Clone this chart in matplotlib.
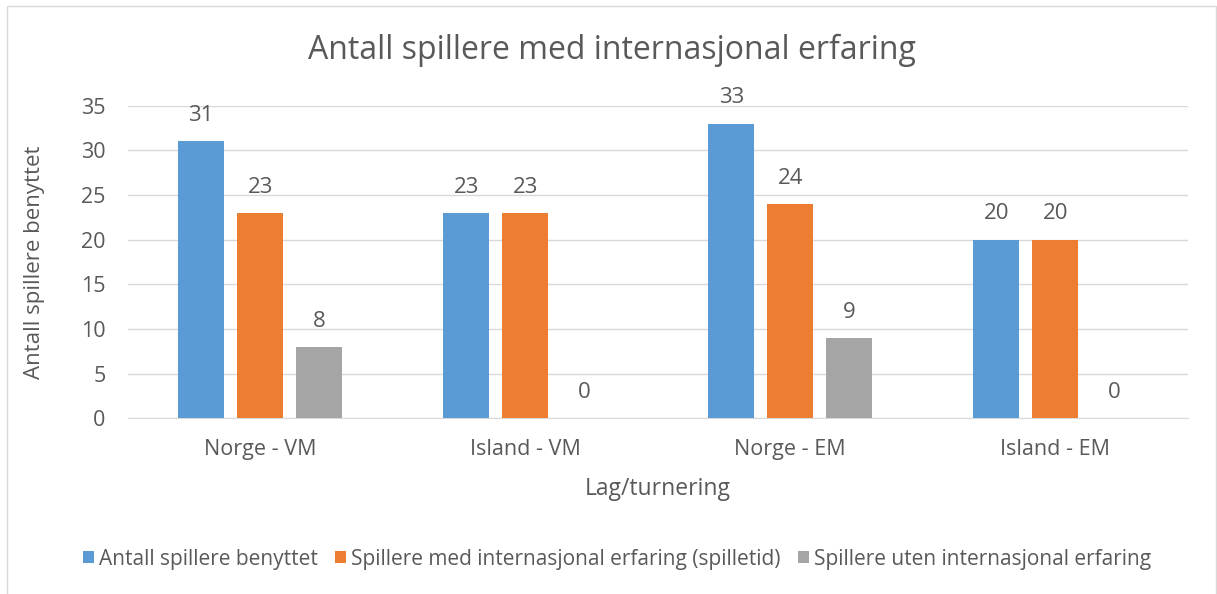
import matplotlib.pyplot as plt
import numpy as np
from matplotlib.patches import Rectangle

plt.rcParams['font.family'] = ['Open Sans', 'DejaVu Sans']

categories = ['Norge - VM', 'Island - VM', 'Norge - EM', 'Island - EM']
series_names = ['Antall spillere benyttet',
                'Spillere med internasjonal erfaring (spilletid)',
                'Spillere uten internasjonal erfaring']
benyttet = [31, 23, 33, 20]
med_erfaring = [23, 23, 24, 20]
uten_erfaring = [8, 0, 9, 0]
colors = ['#5B9BD5', '#ED7D31', '#A5A5A5']

txt = '#595959'

fig = plt.figure(figsize=(12.17, 5.94), dpi=100)
ax = fig.add_axes([0.105, 0.296, 0.871, 0.526])

# light border around the chart area
fig.patches.append(Rectangle((7 / 1217, -0.1), 1209 / 1217, 1.1 - 6 / 594,
                             transform=fig.transFigure, fill=False,
                             edgecolor='#D9D9D9', linewidth=1))

x = np.arange(len(categories))
w = 0.174
off = 0.223
for k, vals in enumerate([benyttet, med_erfaring, uten_erfaring]):
    pos = x + (k - 1) * off
    ax.bar(pos, vals, width=w, color=colors[k], label=series_names[k], zorder=3)
    for p, v in zip(pos, vals):
        ax.annotate(str(v), (p, v), xytext=(0, 18.5), textcoords='offset points',
                    ha='center', va='center', fontsize=16, color=txt)

ax.set_xlim(-0.5, 3.5)
ax.set_ylim(0, 35)
ax.set_yticks(np.arange(0, 36, 5))
ax.set_xticks(x)
ax.set_xticklabels(categories)
ax.grid(axis='y', color='#D9D9D9', linewidth=1, zorder=0)
for s in ['left', 'right', 'top']:
    ax.spines[s].set_visible(False)
ax.spines['bottom'].set_color('#D9D9D9')
ax.tick_params(axis='both', length=0, labelsize=15.5, colors=txt)
ax.tick_params(axis='y', pad=16)
ax.tick_params(axis='x', pad=15)

fig.text(0.503, 1 - 50 / 594, 'Antall spillere med internasjonal erfaring',
         ha='center', va='center', fontsize=23, color=txt)
fig.text(35 / 1217, 1 - 262 / 594, 'Antall spillere benyttet', rotation=90,
         ha='center', va='center', fontsize=16, color=txt)
fig.text(658 / 1217, 1 - 489 / 594, 'Lag/turnering',
         ha='center', va='center', fontsize=16.5, color=txt)

fig.legend(loc='center', bbox_to_anchor=(0.507, 1 - 559 / 594), ncol=3, frameon=False,
           fontsize=15, labelcolor=txt, handlelength=0.55, handleheight=0.55,
           handletextpad=0.25, columnspacing=0.8)

fig.savefig('out.png', dpi=100, facecolor='white')
